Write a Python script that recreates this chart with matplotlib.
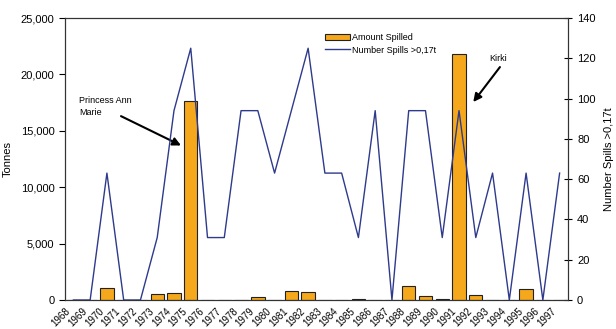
import matplotlib.pyplot as plt
import numpy as np

plt.rcParams["font.family"] = ["Liberation Sans", "DejaVu Sans"]

years = [str(y) for y in range(1968, 1998)]
amount_spilled = [0, 0, 1050, 0, 0, 500, 600, 17600, 0, 0,
                  0, 250, 0, 770, 680, 0, 0, 130, 0, 0,
                  1270, 330, 130, 21800, 400, 0, 0, 1000, 0, 0]
number_spills = [0, 0, 63, 0, 0, 31, 94, 125, 31, 31,
                 94, 94, 63, 94, 125, 63, 63, 31, 94, 0,
                 94, 94, 31, 94, 31, 63, 0, 63, 0, 63]

bar_color = "#F5A81C"
line_color = "#2E3A8C"

fig = plt.figure(figsize=(6.16, 3.29), dpi=100)
ax = fig.add_axes([65 / 616, 1 - 300 / 329, 503 / 616, 282 / 329])
ax2 = ax.twinx()

x = np.arange(len(years))
ax.bar(x, amount_spilled, width=0.8, color=bar_color, edgecolor="#222222",
       linewidth=0.8, label="Amount Spilled", zorder=2)
ax2.plot(x, number_spills, color=line_color, linewidth=1.0,
         label="Number Spills >0,17t")

ax.set_xlim(-0.5, len(years) - 0.5)
ax.set_ylim(0, 25000)
ax2.set_ylim(0, 140)
ax.set_yticks(np.arange(0, 25001, 5000))
ax.set_yticklabels([f"{v:,}" for v in range(0, 25001, 5000)])
ax2.set_yticks(np.arange(0, 141, 20))

# tick marks between categories, labels hung near the left tick like Excel
ax.set_xticks(x - 0.5, minor=True)
ax.set_xticks(x - 0.5)
ax.set_xticklabels(years, rotation=45, ha="right", rotation_mode="anchor")
ax.tick_params(axis="x", which="major", length=0, labelsize=7, pad=4)
ax.tick_params(axis="x", which="minor", length=6, direction="inout", width=0.8)
ax.tick_params(axis="y", labelsize=8, length=4, width=0.8)
ax2.tick_params(axis="y", labelsize=8, length=6, direction="inout", width=0.8)

for a in (ax, ax2):
    for s in a.spines.values():
        s.set_color("#333333")
        s.set_linewidth(0.8)

ax.set_ylabel("Tonnes", fontsize=8, labelpad=6)
ax2.set_ylabel("Number Spills >0,17t", fontsize=8, labelpad=6)

h1, l1 = ax.get_legend_handles_labels()
h2, l2 = ax2.get_legend_handles_labels()
ax2.legend(h1 + h2, l1 + l2, loc="upper left", bbox_to_anchor=(0.51, 0.96),
           frameon=False, fontsize=6.5, handlelength=2.8, handleheight=0.6,
           labelspacing=0.4, handletextpad=0.2, borderaxespad=0)

# annotations for the two big spills
arrow = dict(arrowstyle="-|>", color="black", lw=1.5, mutation_scale=12,
             shrinkA=0, shrinkB=0)
ax.text(0.33, 17150, "Princess Ann\nMarie", fontsize=6.5, ha="left",
        va="center", linespacing=1.5)
ax.annotate("", xy=(6.42, 13700), xytext=(2.84, 16300), arrowprops=arrow)
ax.text(25.32, 21400, "Kirki", fontsize=6.5, ha="center", va="center")
ax.annotate("", xy=(23.85, 17550), xytext=(25.44, 20650), arrowprops=arrow)

fig.savefig("out.png", dpi=100)
